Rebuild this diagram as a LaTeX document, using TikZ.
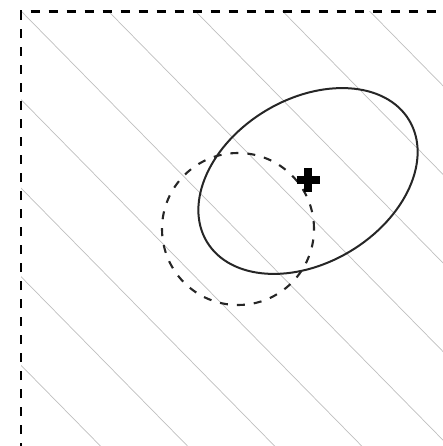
\documentclass[tikz,border=0pt]{standalone}
\usetikzlibrary{calc}

\begin{document}
\begin{tikzpicture}[
    x=1pt, y=-1pt,
    hatch/.style={gray!50, line width=0.7pt},
    frame/.style={draw=black, line width=2.6pt, dash pattern=on 9pt off 9pt},
    contour/.style={draw=black!85, line width=2pt},
    prior/.style={draw=black!85, line width=2.1pt, dash pattern=on 8pt off 9pt},
    marker/.style={black, line width=7.5pt}
]

\useasboundingbox (0,0) rectangle (443,446);
\clip (0,0) rectangle (443,446);

% centres
\coordinate (corner) at (21,11.5);
\coordinate (peak) at (308,181);
\coordinate (start) at (238,229);

% hatched region
\begin{scope}
    \clip (corner) rectangle (470,470);
    \foreach \k in {-5,...,5} {
        \draw[hatch] ($(10.25,0)+(87.1*\k,0)+(-500,-508.5)$) -- ++(1000,1017);
    }
\end{scope}

% border of the region
\draw[frame] (21,470) -- (corner) -- (470,11.5);

% dashed circle
\draw[prior] (start) circle [radius=76pt];

% solid ellipse
\draw[contour, rotate around={31:(peak)}] (peak) ellipse [x radius=118pt, y radius=82pt];

% marker
\draw[marker] ($(peak)+(-11.5,-1)$) -- ($(peak)+(11.5,-1)$);
\draw[marker] ($(peak)+(0,-13)$) -- ($(peak)+(0,11)$);

\end{tikzpicture}
\end{document}
